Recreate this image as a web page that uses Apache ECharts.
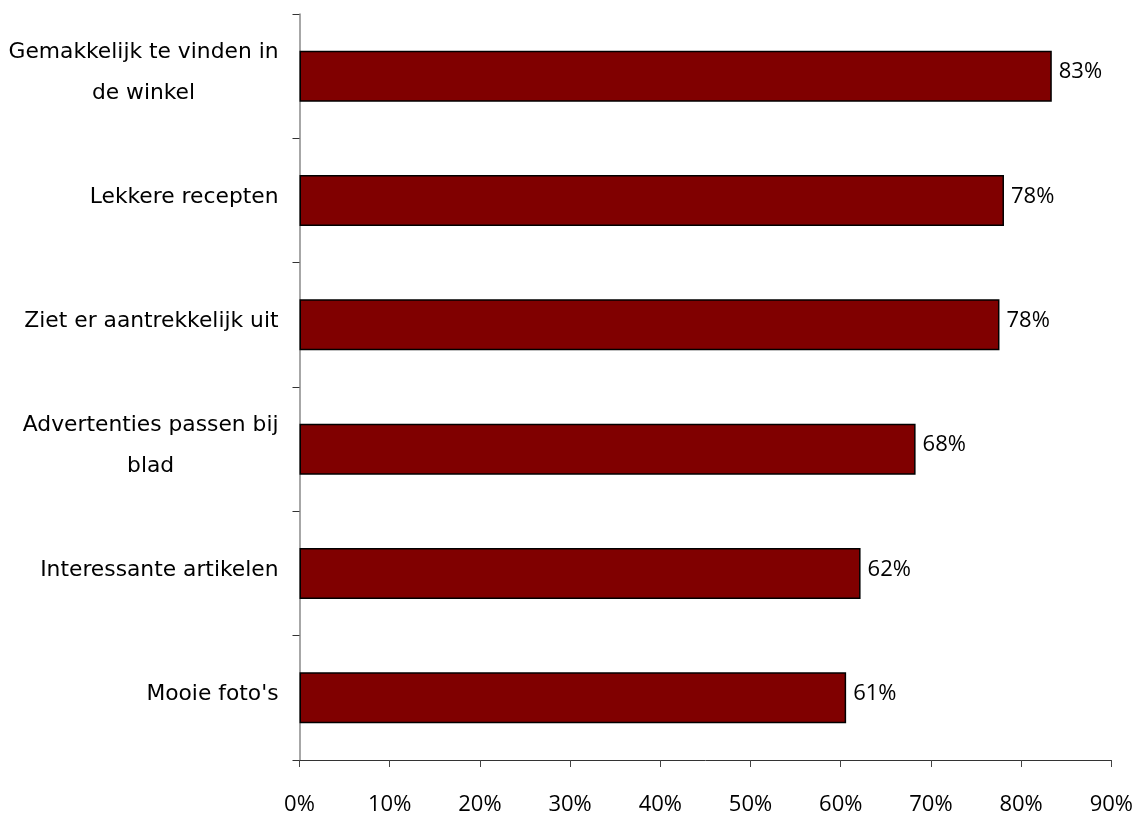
<!DOCTYPE html>
<html>
<head>
<meta charset="utf-8">
<script src="https://cdn.jsdelivr.net/npm/echarts@6/dist/echarts.min.js"></script>
<style>
  html, body { margin: 0; padding: 0; background: #fff; }
  #chart { width: 1136px; height: 816px; }
</style>
</head>
<body>
<div id="chart"></div>
<script>
// Survey statements, top to bottom
const categories = [
  'Gemakkelijk te vinden in\nde winkel',
  'Lekkere recepten',
  'Ziet er aantrekkelijk uit',
  'Advertenties passen bij\nblad',
  'Interessante artikelen',
  "Mooie foto's"
];
// Share of respondents agreeing (%)
const shares = [83.4, 78.1, 77.6, 68.3, 62.2, 60.6];
// Horizontal axis ticks (%)
const tickValues = [0, 10, 20, 30, 40, 50, 60, 70, 80, 90];

const numberFont = '"Liberation Sans Narrow", "Open Sans", sans-serif';

const chart = echarts.init(document.getElementById('chart'), null, { renderer: 'canvas' });

chart.setOption({
  animation: false,
  backgroundColor: '#ffffff',
  grid: { left: 299.5, right: 22, top: 14, bottom: 54, containLabel: false },
  xAxis: {
    type: 'value',
    min: tickValues[0],
    max: tickValues[tickValues.length - 1],
    interval: 10,
    splitLine: { show: false },
    axisLine: { show: true, lineStyle: { color: '#333333', width: 1 } },
    axisTick: { show: true, inside: false, length: 7, lineStyle: { color: '#444444' } },
    axisLabel: {
      margin: 34,
      color: '#000000',
      fontFamily: numberFont,
      fontSize: 22,
      formatter: v => v + '%'
    }
  },
  yAxis: {
    type: 'category',
    inverse: true,
    data: categories,
    axisLine: { show: true, lineStyle: { color: '#8a8a8a', width: 1.5 } },
    axisTick: { show: true, inside: false, length: 7, alignWithLabel: false, lineStyle: { color: '#333333' } },
    axisLabel: {
      margin: 21,
      align: 'right',
      color: '#000000',
      padding: [0, 0, 7, 0],
      formatter: v => v.split('\n').map(s => '{c|' + s + '}').join('\n'),
      rich: {
        c: {
          align: 'center',
          fontFamily: 'DejaVu Sans',
          fontSize: 21.8,
          lineHeight: 41,
          color: '#000000'
        }
      }
    }
  },
  series: [{
    type: 'bar',
    data: shares,
    barWidth: 51,
    itemStyle: { color: '#800000', borderColor: '#000000', borderWidth: 1.5 },
    label: {
      show: true,
      position: 'right',
      distance: 7,
      offset: [0, -4],
      color: '#000000',
      fontFamily: numberFont,
      fontSize: 22,
      formatter: p => Math.round(p.value) + '%'
    }
  }]
});
</script>
</body>
</html>
